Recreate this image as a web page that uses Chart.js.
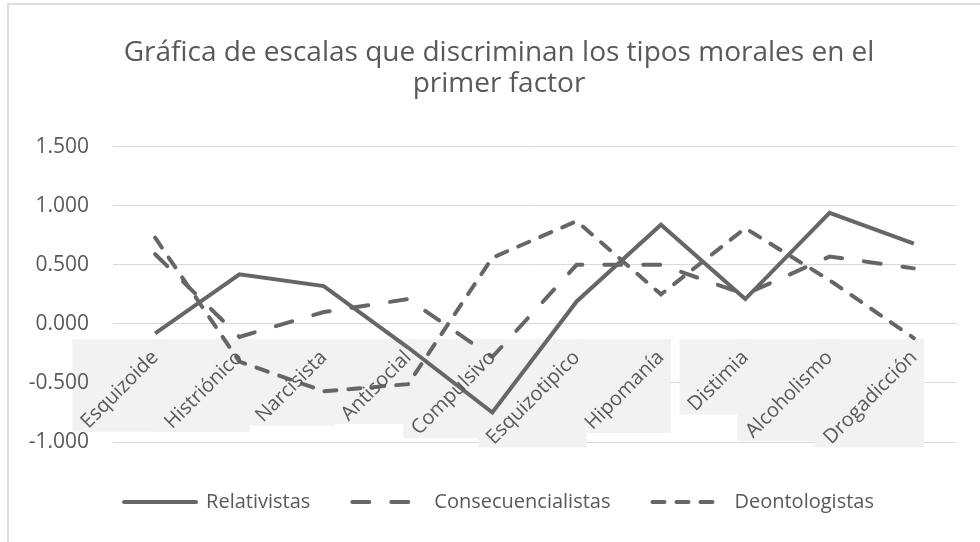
<!DOCTYPE html>
<html lang="es">
<head>
	<meta charset="UTF-8">
	<title>Escalas que discriminan los tipos morales</title>
	<script src="https://cdn.jsdelivr.net/npm/chart.js@4.4.1/dist/chart.umd.min.js"></script>
	<style>
		html, body {
			margin: 0;
			padding: 0;
			background: #ffffff;
			overflow: hidden;
		}

		#frame {
			position: absolute;
			left: 7px;
			top: 3px;
			width: 1000px;
			height: 600px;
			border-left: 2px solid #dedede;
			border-top: 2px solid #dedede;
			pointer-events: none;
		}

		canvas {
			position: absolute;
			left: 0;
			top: 0;
		}
	</style>
</head>
<body>
	<canvas id="chart" width="980" height="542"></canvas>
	<div id="frame"></div>

	<script>
		const categories = ["Esquizoide", "Histriónico", "Narcisista", "Antisocial", "Compulsivo",
			"Esquizotipico", "Hipomanía", "Distimia", "Alcoholismo", "Drogadicción"];

		const relativistas = [-0.08, 0.42, 0.32, -0.20, -0.75, 0.19, 0.84, 0.21, 0.94, 0.68];
		const consecuencialistas = [0.59, -0.11, 0.10, 0.21, -0.28, 0.50, 0.50, 0.25, 0.57, 0.47];
		const deontologistas = [0.73, -0.32, -0.57, -0.51, 0.56, 0.87, 0.25, 0.81, 0.37, -0.12];

		const seriesNames = ["Relativistas", "Consecuencialistas", "Deontologistas"];
		const dashes = [[], [17, 22], [12, 12]];

		const ink = "#666666";
		const textColor = "#595959";
		const labelFont = '"Open Sans", "DejaVu Sans", sans-serif';

		// grey boxes behind the category labels (Excel leaves them there)
		const labelBoxes = {
			id: "labelBoxes",
			beforeDatasetsDraw(chart) {
				const ctx = chart.ctx;
				const x = chart.scales.x;
				const y = chart.scales.y;
				const top = y.getPixelForValue(0) + 15;
				ctx.save();
				ctx.font = "20px " + labelFont;
				ctx.fillStyle = "#f2f2f2";
				for (let i = 0; i < categories.length; i++) {
					const px = x.getPixelForTick(i);
					const w = ctx.measureText(categories[i]).width;
					const d = w * Math.SQRT1_2 + 22;
					ctx.fillRect(px + 10 - d, top, d, d);
				}
				ctx.restore();
			}
		};

		const datasets = [relativistas, consecuencialistas, deontologistas].map((values, i) => ({
			label: seriesNames[i],
			data: values,
			borderColor: ink,
			backgroundColor: ink,
			borderWidth: 4,
			borderDash: dashes[i],
			borderCapStyle: i === 0 ? "butt" : "round",
			pointRadius: 0,
			pointHoverRadius: 0,
			tension: 0,
			fill: false
		}));

		const chart = new Chart(document.getElementById("chart"), {
			type: "line",
			data: {
				labels: categories,
				datasets
			},
			plugins: [labelBoxes],
			options: {
				responsive: false,
				animation: false,
				layout: {
					padding: { top: 0, right: 10, bottom: 20, left: 28 }
				},
				plugins: {
					title: {
						display: true,
						text: ["Gráfica de escalas que discriminan los tipos morales en el", "primer factor"],
						color: textColor,
						font: { family: labelFont, size: 28, weight: "normal", lineHeight: 1.12 },
						padding: { top: 37, bottom: 47 }
					},
					legend: {
						position: "bottom",
						title: {
							display: true,
							text: " ",
							font: { size: 1, lineHeight: 1 },
							padding: { top: 0, bottom: 7 }
						},
						labels: {
							usePointStyle: true,
							pointStyle: "line",
							pointStyleWidth: 72,
							color: textColor,
							font: { family: labelFont, size: 20 },
							padding: 42,
							generateLabels(c) {
								const items = Chart.defaults.plugins.legend.labels.generateLabels(c);
								items.forEach((item, i) => {
									item.lineDash = dashes[i];
									item.lineCap = "round";
									item.lineWidth = 4;
									item.strokeStyle = ink;
									item.fillStyle = ink;
									item.pointStyle = "line";
								});
								return items;
							}
						}
					},
					tooltip: { enabled: false }
				},
				scales: {
					x: {
						position: { y: 0 },
						offset: true,
						grid: { display: false, drawTicks: false },
						border: { display: true, color: "#d9d9d9", width: 1 },
						ticks: {
							z: 1,
							minRotation: 45,
							maxRotation: 45,
							padding: 22,
							color: textColor,
							font: { family: labelFont, size: 20 }
						},
						afterFit(scale) {
							scale.paddingLeft = 0;
							scale.paddingRight = 0;
						}
					},
					y: {
						min: -1,
						max: 1.5,
						grid: { color: "#d9d9d9", lineWidth: 1, drawTicks: false },
						border: { display: false },
						ticks: {
							z: 1,
							stepSize: 0.5,
							padding: 24,
							color: textColor,
							font: { family: labelFont, size: 21 },
							callback: v => v.toFixed(3)
						},
						afterFit(scale) {
							scale.width = 85;
						}
					},
					// empty strip on the right so the title sits where Excel put it
					spacer: {
						type: "linear",
						position: "right",
						grid: { display: false },
						border: { display: false },
						ticks: { display: false },
						afterFit(scale) {
							scale.width = 14;
						}
					}
				}
			}
		});
	</script>
</body>
</html>
